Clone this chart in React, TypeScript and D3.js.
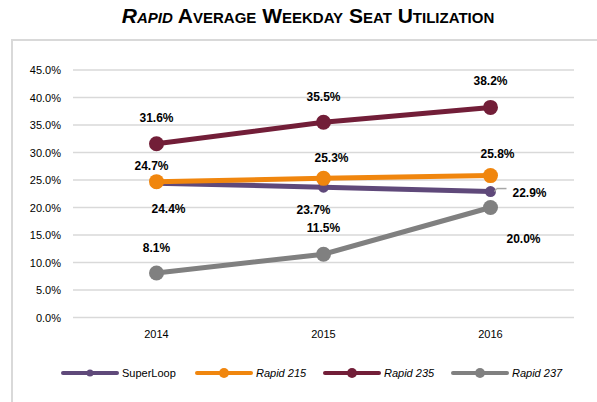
import React from "react";
import * as d3 from "d3";

const years = ["2014", "2015", "2016"];
const seriesNames = ["SuperLoop", "Rapid 215", "Rapid 235", "Rapid 237"];
const superLoop = [24.4, 23.7, 22.9];
const rapid215 = [24.7, 25.3, 25.8];
const rapid235 = [31.6, 35.5, 38.2];
const rapid237 = [8.1, 11.5, 20.0];
const yTicks = [0, 5, 10, 15, 20, 25, 30, 35, 40, 45];

const colors = ["#5f497a", "#f0860e", "#721e38", "#808080"];
const FONT = "'Liberation Sans Narrow', 'Arial Narrow', 'Liberation Sans', Arial, sans-serif";

export default function App() {
  const W = 597, H = 402;
  const x = d3.scaleBand().domain(years).range([73, 574]);
  const y = d3.scaleLinear().domain([0, 45]).range([317.5, 70]);
  const cx = (i: number) => (x(years[i]) as number) + x.bandwidth() / 2;
  const line = d3.line<number>().x((_, i) => cx(i)).y((v) => y(v));
  const data = [superLoop, rapid215, rapid235, rapid237];
  const markerR = [5.5, 7.5, 7.5, 7.5];
  // label offsets [dx, dy from marker to baseline]
  const labelOff: [number, number, string][][] = [
    [[12, 30, "middle"], [-10, 27, "middle"], [22, 5, "start"]],
    [[-5, -12, "middle"], [8, -16, "middle"], [7, -18, "middle"]],
    [[0, -22, "middle"], [0, -21, "middle"], [0, -22, "middle"]],
    [[0, -21, "middle"], [0, -22, "middle"], [33, 35, "middle"]],
  ];
  const order = [3, 0, 1, 2];
  const legendX = [63, 197, 325, 453];
  return (
    <svg width={W} height={H} style={{ position: "absolute", left: 0, top: 0, fontFamily: FONT }}>
      <rect x={0} y={0} width={W} height={H} fill="#fff" />
      <rect x={12} y={40} width={W} height={H} fill="none" stroke="#d9d9d9" strokeWidth={2} />
      <text x={308} y={23} textAnchor="middle" fontWeight="bold" fill="#000" style={{ fontVariant: "small-caps" }} fontSize={21}>
        <tspan fontStyle="italic">Rapid</tspan>
        <tspan> Average Weekday Seat Utilization</tspan>
      </text>
      {yTicks.map((t) => (
        <g key={t}>
          <line x1={73} x2={574} y1={y(t)} y2={y(t)} stroke="#d9d9d9" strokeWidth={1.5} />
          <text x={61} y={y(t) + 4} textAnchor="end" fontSize={11} fill="#000">
            {t.toFixed(1) + "%"}
          </text>
        </g>
      ))}
      {years.map((yr, i) => (
        <text key={yr} x={cx(i)} y={338} textAnchor="middle" fontSize={11} fill="#000">{yr}</text>
      ))}
      {order.map((s) => (
        <g key={s}>
          <path d={line(data[s]) as string} fill="none" stroke={colors[s]} strokeWidth={5} strokeLinecap="round" />
          {data[s].map((v, i) => (
            <circle key={i} cx={cx(i)} cy={y(v)} r={markerR[s]} fill={colors[s]} />
          ))}
        </g>
      ))}
      <line x1={cx(2) + 6} x2={cx(2) + 16} y1={y(superLoop[2]) - 3} y2={y(superLoop[2]) - 3} stroke="#a6a6a6" strokeWidth={1.5} />
      <line x1={cx(2) + 4} x2={cx(2) + 6} y1={y(superLoop[2])} y2={y(superLoop[2]) - 3} stroke="#a6a6a6" strokeWidth={1.5} />
      {data.map((arr, s) =>
        arr.map((v, i) => (
          <text key={s + "-" + i} x={cx(i) + labelOff[s][i][0]} y={y(v) + labelOff[s][i][1]}
            textAnchor={labelOff[s][i][2] as any} fontSize={12} fontWeight="bold" fill="#000">
            {v.toFixed(1) + "%"}
          </text>
        ))
      )}
      {seriesNames.map((n, s) => (
        <g key={n}>
          <line x1={legendX[s]} x2={legendX[s] + 54} y1={373} y2={373} stroke={colors[s]} strokeWidth={4} strokeLinecap="round" />
          <circle cx={legendX[s] + 27} cy={373} r={s === 0 ? 3.5 : 5} fill={colors[s]} />
          <text x={legendX[s] + 59} y={377} fontSize={11} fill="#000" fontStyle={s === 0 ? "normal" : "italic"}>{n}</text>
        </g>
      ))}
    </svg>
  );
}
